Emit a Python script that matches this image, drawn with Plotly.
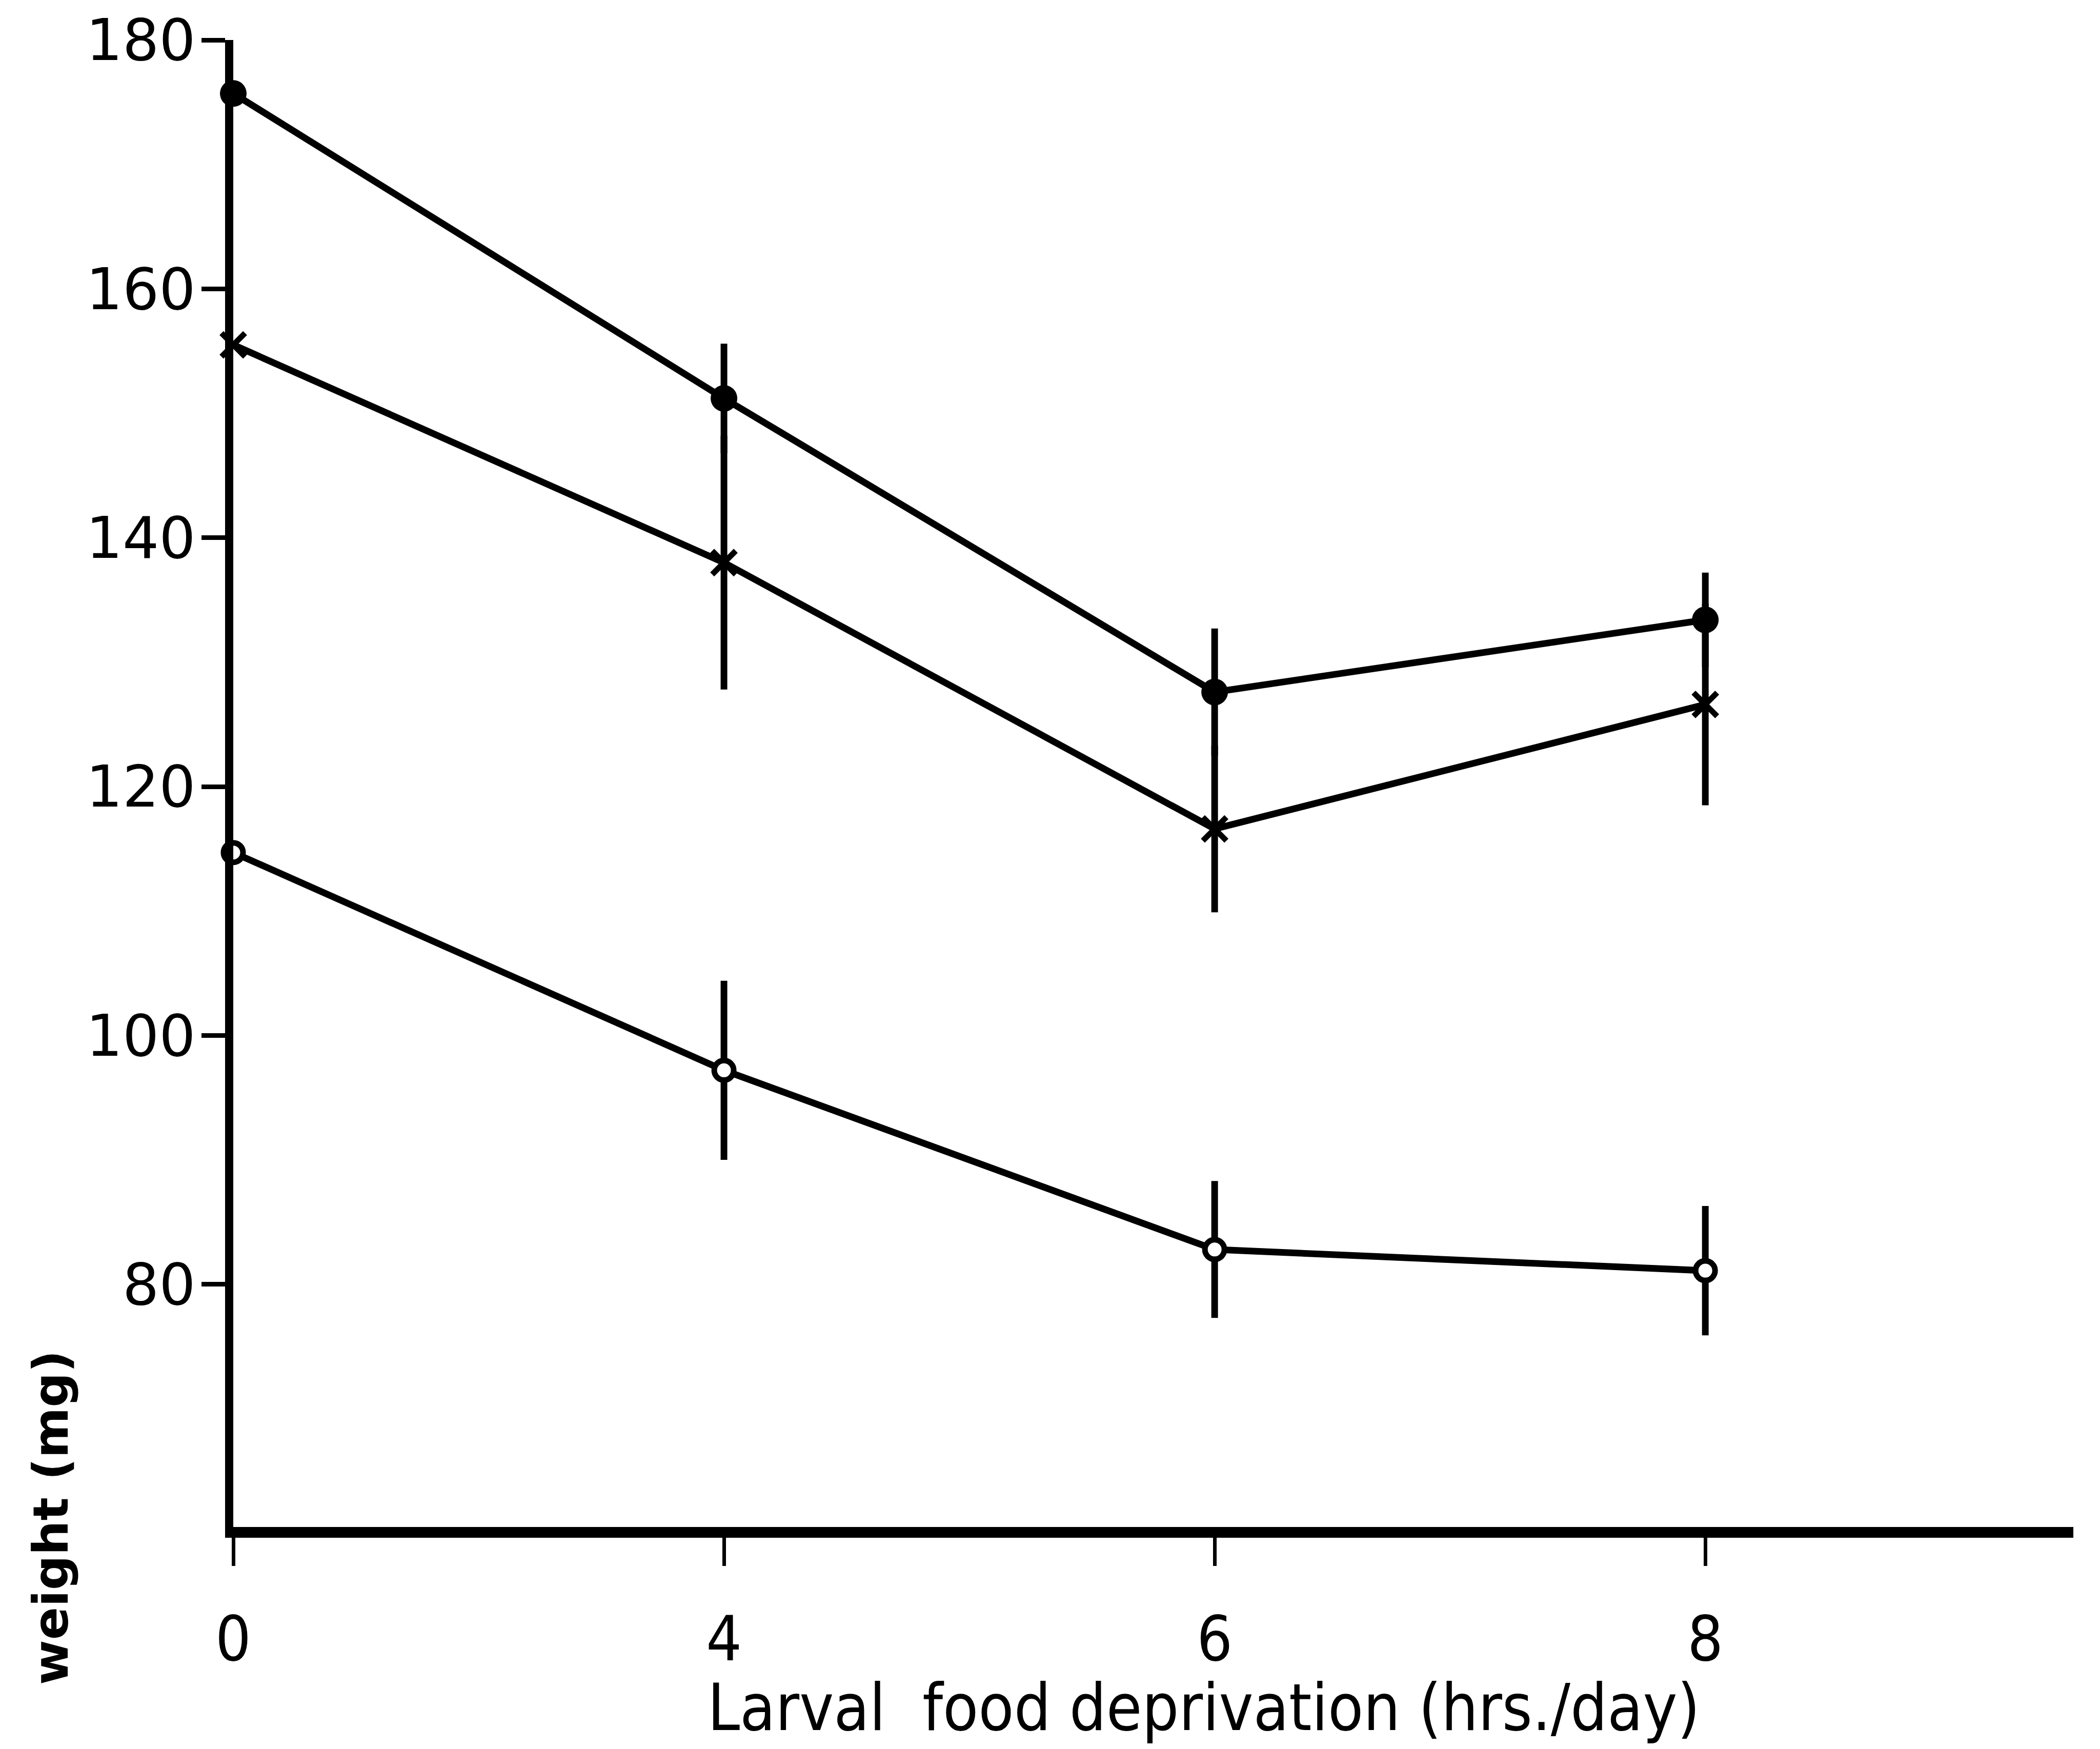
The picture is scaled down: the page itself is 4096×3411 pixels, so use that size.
import plotly.graph_objects as go

# Data
x_labels = ["0", "4", "6", "8"]          # larval food deprivation (hrs/day)
x_pos = [0, 1, 2, 3]                      # equally spaced positions on the drawing

filled_vals = [175.7, 151.2, 127.6, 133.4]
filled_err = [0.0, 4.4, 5.1, 3.8]

cross_vals = [155.5, 138.0, 116.6, 126.6]
cross_err = [0.0, 10.2, 6.7, 8.1]

open_vals = [114.7, 97.2, 82.8, 81.1]
open_err = [0.0, 7.2, 5.5, 5.2]

y_ticks = [80, 100, 120, 140, 160, 180]

FONT = "DejaVu Sans"
FONT_C = "DejaVu Sans Condensed"

fig = go.Figure()

def add_series(vals, errs, symbol, size, fill, mline):
    fig.add_trace(go.Scatter(
        x=x_pos, y=vals,
        mode="lines+markers",
        line=dict(color="black", width=13),
        marker=dict(symbol=symbol, size=size, color=fill,
                    line=dict(color="black", width=mline)),
        error_y=dict(type="data", array=errs, visible=True,
                     color="black", thickness=13, width=0),
        cliponaxis=False,
        showlegend=False,
    ))

add_series(filled_vals, filled_err, "circle", 52, "black", 0)
add_series(cross_vals, cross_err, "x-thin", 46, "black", 11)
add_series(open_vals, open_err, "circle", 38, "white", 11)

fig.update_layout(
    width=4096, height=3411,
    margin=dict(l=455, r=52, t=78, b=433),
    paper_bgcolor="white", plot_bgcolor="white",
    font=dict(family=FONT, color="black", size=105),
)

fig.update_xaxes(
    range=[0, 3.75],
    tickmode="array", tickvals=x_pos, ticktext=x_labels,
    showgrid=False, zeroline=False,
    showline=True, linecolor="black", linewidth=21,
    ticks="outside", ticklen=55, tickwidth=7, tickcolor="black",
    tickfont=dict(family=FONT_C, size=122, color="black"),
    ticklabelstandoff=38,
)
fig.update_yaxes(
    range=[60.5, 180],
    tickmode="array", tickvals=y_ticks,
    showgrid=False, zeroline=False,
    showline=True, linecolor="black", linewidth=16,
    ticks="outside", ticklen=46, tickwidth=9, tickcolor="black",
    tickfont=dict(family=FONT, size=112, color="black"),
    ticklabelstandoff=-11,
)

fig.add_annotation(
    text="Larval\u00a0\u00a0food deprivation (hrs./day)",
    xref="paper", yref="paper",
    x=(2348 - 455) / (4044 - 455), y=(2978 - 3330) / 2900,
    xanchor="center", yanchor="middle",
    showarrow=False,
    font=dict(family=FONT_C, size=126, color="black"),
)
fig.add_annotation(
    text="weight (mg)",
    xref="paper", yref="paper",
    x=(99 - 455) / (4044 - 455), y=(2978 - 2960) / 2900,
    xanchor="center", yanchor="middle",
    textangle=-90,
    showarrow=False,
    font=dict(family=FONT, size=95, color="black", weight="bold"),
)

fig.write_html("out.html")
